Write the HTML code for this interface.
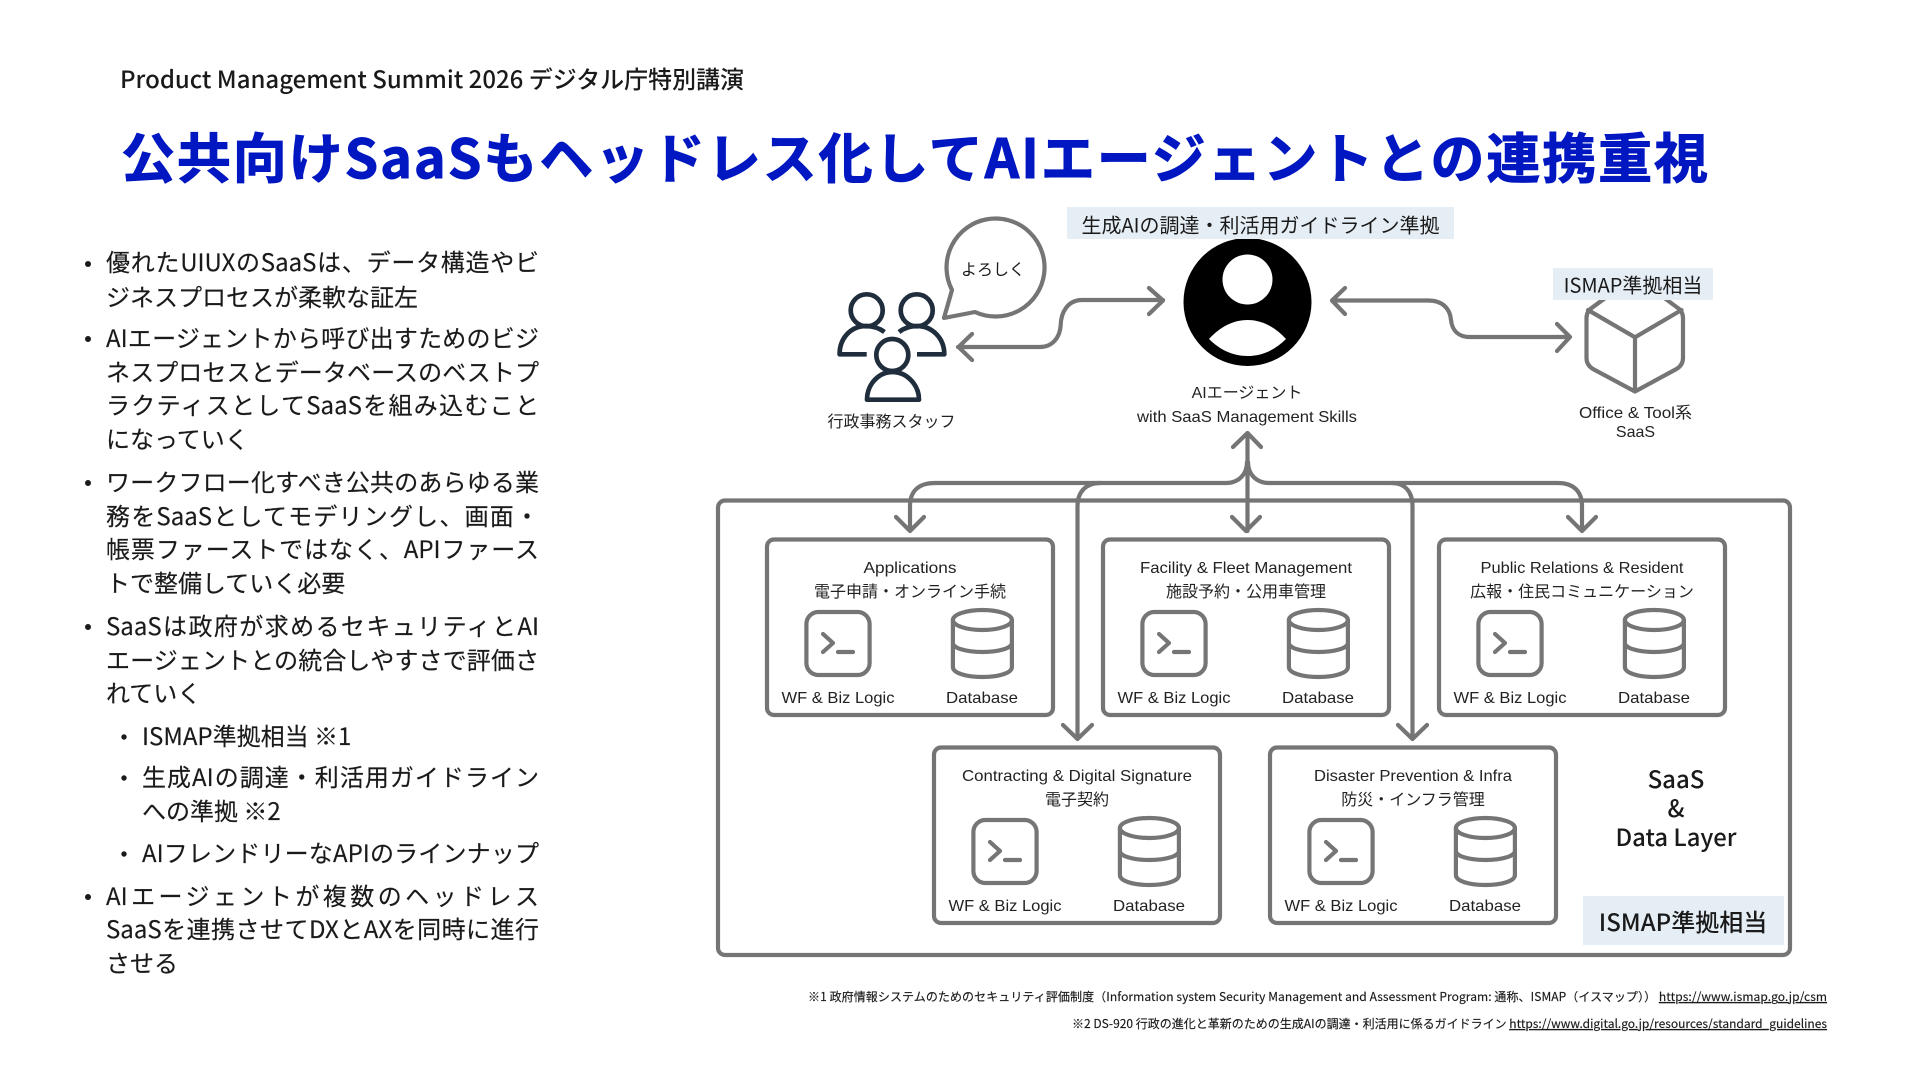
<!DOCTYPE html>
<html lang="ja">
<head>
<meta charset="utf-8">
<title>公共向けSaaSもヘッドレス化してAIエージェントとの連携重視</title>
<style>
html,body{margin:0;padding:0;background:#fff;width:1920px;height:1080px;overflow:hidden;position:relative}
svg{display:block;position:absolute;left:0;top:0}
text{font-family:"Noto Sans CJK JP","Liberation Sans",sans-serif;fill:#1a1a1a}
.l{font-family:"Liberation Sans","Noto Sans CJK JP",sans-serif;font-size:16px;text-anchor:middle;fill:#222}
.t{fill:none;stroke:#757575;stroke-width:4.2;stroke-linecap:round;stroke-linejoin:round}
.f{font-size:12px;text-anchor:end;stroke:#1a1a1a;stroke-width:.15}
.d{position:absolute;font:400 24px/34px "Noto Sans CJK JP","Liberation Sans",sans-serif;color:#1a1a1a;white-space:nowrap;-webkit-text-stroke:.15px #1a1a1a}
.j{text-align:justify;text-align-last:justify;text-justify:inter-character;width:433px;left:106px;white-space:normal}
.n{left:106px}
.js{text-align:justify;text-align-last:justify;text-justify:inter-character;width:397px;left:142px;white-space:normal}
.ns{left:142px}
</style>
</head>
<body>
<svg width="1920" height="1080" viewBox="0 0 1920 1080" xmlns="http://www.w3.org/2000/svg">
<defs>
<g id="ic">
<rect class="t" x="38.4" y="71" width="63.2" height="63" rx="12"/>
<path class="t" d="M55 93L65 102L55 111M70 111H85"/>
<ellipse class="t" cx="214.4" cy="79" rx="29.5" ry="10"/>
<path class="t" d="M184.9 79V126C184.9 132 198 136 214.4 136C231 136 243.9 132 243.9 126V79M184.9 102C184.9 107 198 111 214.4 111C231 111 243.9 107 243.9 102"/>
<rect class="t" x="-1" y="-1.5" width="286" height="175.5" rx="7"/>
</g>
</defs>

<text x="120" y="88" font-size="24" font-weight="500" textLength="624" lengthAdjust="spacingAndGlyphs">Product Management Summit 2026 デジタル庁特別講演</text>
<text x="121" y="178" font-size="54" font-weight="700" textLength="1587" style="fill:#0017c1;stroke:#0017c1;stroke-width:.9">公共向けSaaSもヘッドレス化してAIエージェントとの連携重視</text>

<!-- bullets -->
<g fill="#1a1a1a">
<circle cx="88" cy="264" r="3"/><circle cx="88" cy="339" r="3"/><circle cx="88" cy="483" r="3"/><circle cx="88" cy="627" r="3"/>
<circle cx="124" cy="737" r="2.7"/><circle cx="124" cy="778" r="2.7"/><circle cx="124" cy="854" r="2.7"/><circle cx="88" cy="897" r="3"/>
</g>

<!-- people -->
<g fill="none" stroke="#1f2d3d" stroke-width="4.7" stroke-linecap="butt" stroke-linejoin="round">
<circle cx="866.7" cy="310.3" r="16"/>
<circle cx="916.7" cy="310.3" r="16"/>
<circle cx="892.3" cy="355" r="16"/>
<path d="M866.7 354.3H839.6C839.6 338 851 326 866 326C872 326 879 328 884.5 332"/>
<path d="M917 354.3H944.3C944.3 338 932 326 917 326C911 326 904 328 899 332"/>
<path d="M867 399.7C867 385 878 372 892.5 372C907 372 919 385 919 399.7Z"/>
</g>

<!-- bubble -->
<path class="t" fill="#fff" d="M952 290L944 318L975 312A49 49 0 1 0 952 290Z"/>
<text x="993" y="275" font-size="16" text-anchor="middle">よろしく</text>

<!-- agent arrows -->
<path class="t" d="M958 347H1040C1052 347 1060 338 1060.7 325C1061 312 1068 300 1082 300H1163M1149 288L1163 300.5L1149 314M972 334L958.5 347L972 360"/>
<path class="t" d="M1332 300.5H1428C1442 300.5 1450 308 1451 320C1452 330 1458 337 1470 337H1570M1345 288L1332 300.5L1345 314M1557 324L1570 337L1557 351"/>

<!-- agent icon -->
<circle cx="1247.5" cy="302" r="64" fill="#000"/>
<circle cx="1247.5" cy="279.5" r="25" fill="#fff"/>
<path fill="#fff" d="M1209 339C1220 327 1233 320 1247.5 320C1262 320 1275 327 1286 339C1275 350 1262 356 1247.5 356C1233 356 1220 350 1209 339Z"/>

<!-- cube -->
<path class="t" d="M1635 276L1676.5 307Q1683 311 1683 318V358Q1683 365 1676.5 369L1635 391.5L1593 369Q1586.5 365 1586.5 358V318Q1586.5 311 1593 307ZM1588 310L1635 337.3L1681.5 310M1635 337.3V391.5"/>

<!-- pills -->
<rect x="1067" y="207" width="387" height="32" fill="#e6eef5"/>
<text x="1260.5" y="232.5" font-size="20" text-anchor="middle" textLength="358">生成AIの調達・利活用ガイドライン準拠</text>
<rect x="1553" y="268" width="160" height="32" fill="#e6eef5"/>
<text x="1633" y="292.5" font-size="20" text-anchor="middle">ISMAP準拠相当</text>

<!-- top labels -->
<text class="l" x="891.5" y="427">行政事務スタッフ</text>
<text class="l" x="1247" y="398">AIエージェント</text>
<text class="l" x="1247" y="422" textLength="220" lengthAdjust="spacingAndGlyphs">with SaaS Management Skills</text>
<text class="l" x="1635.5" y="418" textLength="113" lengthAdjust="spacingAndGlyphs">Office &amp; Tool系</text>
<text class="l" x="1635.5" y="437">SaaS</text>

<!-- outer box -->
<rect class="t" x="718" y="500.5" width="1072" height="454.5" rx="7"/>

<!-- tree connectors -->
<path class="t" d="M1247.5 433V531M1233 447L1247.5 433L1261 447M1232 517L1246 531L1260 517"/>
<path class="t" d="M1247 462C1247 475 1238 483 1226 483H935C920 483 910 490 910 506V531M896 517L910 531L924 517"/>
<path class="t" d="M1100 483C1086 483 1077.5 492 1077.5 506V739M1063 725L1077.5 739L1092 725"/>
<path class="t" d="M1248 462C1248 475 1257 483 1269 483H1558C1572 483 1582 490 1582 506V531M1568 517L1582 531L1596 517"/>
<path class="t" d="M1392 483C1405 483 1412.5 492 1412.5 506V739M1398 725L1412.5 739L1427 725"/>

<!-- boxes -->
<g transform="translate(768 541)">
<use href="#ic"/>
<text class="l" x="142" y="32" textLength="93" lengthAdjust="spacingAndGlyphs">Applications</text>
<text class="l" x="142" y="56">電子申請・オンライン手続</text>
<text class="l" x="70" y="162" textLength="113" lengthAdjust="spacingAndGlyphs">WF &amp; Biz Logic</text>
<text class="l" x="214" y="162" textLength="72" lengthAdjust="spacingAndGlyphs">Database</text>
</g>
<g transform="translate(1104 541)">
<use href="#ic"/>
<text class="l" x="142" y="32" textLength="212" lengthAdjust="spacingAndGlyphs">Facility &amp; Fleet Management</text>
<text class="l" x="142" y="56">施設予約・公用車管理</text>
<text class="l" x="70" y="162" textLength="113" lengthAdjust="spacingAndGlyphs">WF &amp; Biz Logic</text>
<text class="l" x="214" y="162" textLength="72" lengthAdjust="spacingAndGlyphs">Database</text>
</g>
<g transform="translate(1440 541)">
<use href="#ic"/>
<text class="l" x="142" y="32" textLength="203" lengthAdjust="spacingAndGlyphs">Public Relations &amp; Resident</text>
<text class="l" x="142" y="56">広報・住民コミュニケーション</text>
<text class="l" x="70" y="162" textLength="113" lengthAdjust="spacingAndGlyphs">WF &amp; Biz Logic</text>
<text class="l" x="214" y="162" textLength="72" lengthAdjust="spacingAndGlyphs">Database</text>
</g>
<g transform="translate(935 749)">
<use href="#ic"/>
<text class="l" x="142" y="32" textLength="230" lengthAdjust="spacingAndGlyphs">Contracting &amp; Digital Signature</text>
<text class="l" x="142" y="56">電子契約</text>
<text class="l" x="70" y="162" textLength="113" lengthAdjust="spacingAndGlyphs">WF &amp; Biz Logic</text>
<text class="l" x="214" y="162" textLength="72" lengthAdjust="spacingAndGlyphs">Database</text>
</g>
<g transform="translate(1271 749)">
<use href="#ic"/>
<text class="l" x="142" y="32" textLength="198" lengthAdjust="spacingAndGlyphs">Disaster Prevention &amp; Infra</text>
<text class="l" x="142" y="56">防災・インフラ管理</text>
<text class="l" x="70" y="162" textLength="113" lengthAdjust="spacingAndGlyphs">WF &amp; Biz Logic</text>
<text class="l" x="214" y="162" textLength="72" lengthAdjust="spacingAndGlyphs">Database</text>
</g>

<!-- saas label -->
<g font-size="24" text-anchor="middle" font-weight="500">
<text x="1676" y="788">SaaS</text>
<text x="1676" y="817">&amp;</text>
<text x="1676" y="846" textLength="121" lengthAdjust="spacingAndGlyphs">Data Layer</text>
</g>
<rect x="1583" y="896" width="201" height="49" fill="#e6eef5"/>
<text x="1683" y="931" font-size="24" font-weight="500" text-anchor="middle">ISMAP準拠相当</text>

<!-- footnotes -->
<text x="1827" y="1001" class="f" textLength="1019">※1 政府情報システムのためのセキュリティ評価制度（Information system Security Management and Assessment Program: 通称、ISMAP（イスマップ））  <tspan text-decoration="underline">https://www.ismap.go.jp/csm</tspan></text>
<text x="1827" y="1028" class="f">※2 DS-920 行政の進化と革新のための生成AIの調達・利活用に係るガイドライン <tspan text-decoration="underline">https://www.digital.go.jp/resources/standard_guidelines</tspan></text>
</svg>

<div class="d j" style="top:243.5px">優れたUIUXのSaaSは、データ構造やビ</div>
<div class="d n" style="top:278.5px">ジネスプロセスが柔軟な証左</div>
<div class="d j" style="top:319.5px">AIエージェントから呼び出すためのビジ</div>
<div class="d j" style="top:353.5px">ネスプロセスとデータベースのベストプ</div>
<div class="d j" style="top:386.5px">ラクティスとしてSaaSを組み込むこと</div>
<div class="d n" style="top:420.5px">になっていく</div>
<div class="d j" style="top:463.5px">ワークフロー化すべき公共のあらゆる業</div>
<div class="d j" style="top:497.5px">務をSaaSとしてモデリングし、画面・</div>
<div class="d j" style="top:531px">帳票ファーストではなく、APIファース</div>
<div class="d n" style="top:564.5px">トで整備していく必要</div>
<div class="d j" style="top:607.5px">SaaSは政府が求めるセキュリティとAI</div>
<div class="d j" style="top:641.5px">エージェントとの統合しやすさで評価さ</div>
<div class="d n" style="top:674.5px">れていく</div>
<div class="d ns" style="top:717.5px">ISMAP準拠相当 ※1</div>
<div class="d js" style="top:758.5px">生成AIの調達・利活用ガイドライン</div>
<div class="d ns" style="top:792.5px">への準拠 ※2</div>
<div class="d js" style="top:834.5px">AIフレンドリーなAPIのラインナップ</div>
<div class="d j" style="top:877.5px">AIエージェントが複数のヘッドレス</div>
<div class="d j" style="top:910.5px">SaaSを連携させてDXとAXを同時に進行</div>
<div class="d n" style="top:944.5px">させる</div>
</body>
</html>
